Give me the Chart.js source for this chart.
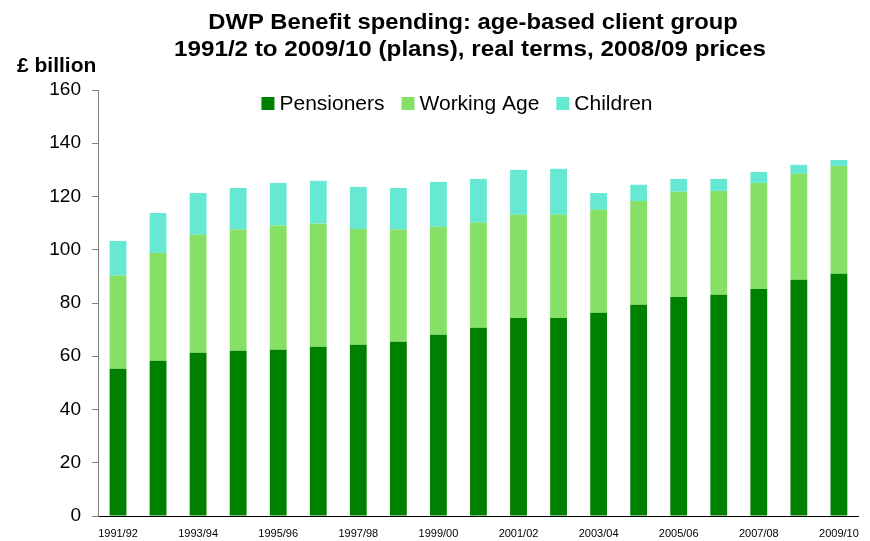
<!DOCTYPE html>
<html>
<head>
<meta charset="utf-8">
<script src="https://cdn.jsdelivr.net/npm/chart.js@4/dist/chart.umd.min.js"></script>
<style>
  html, body { margin: 0; padding: 0; background: #fff; }
  #wrap { width: 870px; height: 541px; position: relative; }
</style>
</head>
<body>
<div id="wrap"><canvas id="c" width="870" height="541"></canvas></div>
<script>
const categories = ["1991/92","1992/93","1993/94","1994/95","1995/96","1996/97","1997/98","1998/99","1999/00","2000/01","2001/02","2002/03","2003/04","2004/05","2005/06","2006/07","2007/08","2008/09","2009/10"];
const pensioners = [55.3, 58.3, 61.3, 62.1, 62.4, 63.6, 64.3, 65.4, 68.1, 70.7, 74.4, 74.4, 76.3, 79.3, 82.3, 83.1, 85.3, 88.7, 91.0];
const workingAge = [35.0, 40.5, 44.3, 45.5, 46.7, 46.2, 43.5, 42.2, 40.5, 39.4, 38.7, 38.7, 38.7, 39.0, 39.5, 39.0, 39.8, 39.8, 40.5];
const children   = [13.0, 15.0, 15.7, 15.6, 16.0, 16.1, 15.8, 15.6, 16.9, 16.5, 16.9, 17.3, 6.3, 6.1, 4.8, 4.5, 4.1, 3.4, 2.2];
const seriesNames = ["Pensioners", "Working Age", "Children"];
const yTicks = [0, 20, 40, 60, 80, 100, 120, 140, 160];
const titleLines = ["DWP Benefit spending: age-based client group", "1991/2 to 2009/10 (plans), real terms, 2008/09 prices"];
const yUnit = "£ billion";

const FONT = '"Liberation Sans", Arial, Helvetica, sans-serif';
const colors = ["#008000", "#86E066", "#66E8D2"];

function stretchedText(ctx, text, x, y, sx, align) {
  ctx.save();
  ctx.translate(x, y);
  ctx.scale(sx, 1);
  ctx.textAlign = align;
  ctx.fillText(text, 0, 0);
  ctx.restore();
}

const decor = {
  id: 'decor',
  afterDraw(chart) {
    const ctx = chart.ctx;
    ctx.save();
    ctx.fillStyle = '#000';
    ctx.textBaseline = 'alphabetic';
    // title
    ctx.font = 'bold 22px ' + FONT;
    stretchedText(ctx, titleLines[0], 473, 29, 1.08, 'center');
    stretchedText(ctx, titleLines[1], 470, 56, 1.1, 'center');
    // unit label
    ctx.font = 'bold 21px ' + FONT;
    ctx.textAlign = 'left';
    ctx.fillText(yUnit, 17, 72);
    // legend
    ctx.font = '21px ' + FONT;
    const box = 13, gapBT = 5, gapItems = 17;
    const ds = chart.data.datasets;
    let total = 0;
    const widths = ds.map(d => ctx.measureText(d.label).width);
    widths.forEach((w, i) => { total += box + gapBT + w + (i < ds.length - 1 ? gapItems : 0); });
    let x = 457 - total / 2;
    const cy = 103.5;
    ds.forEach((d, i) => {
      ctx.fillStyle = d.backgroundColor;
      ctx.fillRect(x, cy - box / 2, box, box);
      ctx.fillStyle = '#000';
      ctx.textBaseline = 'middle';
      ctx.textAlign = 'left';
      ctx.fillText(d.label, x + box + gapBT, cy + 1);
      x += box + gapBT + widths[i] + gapItems;
    });
    ctx.restore();
  }
};

new Chart(document.getElementById('c'), {
  type: 'bar',
  data: {
    labels: categories,
    datasets: [
      { label: seriesNames[0], data: pensioners, backgroundColor: colors[0] },
      { label: seriesNames[1], data: workingAge, backgroundColor: colors[1] },
      { label: seriesNames[2], data: children, backgroundColor: colors[2] }
    ]
  },
  options: {
    responsive: false,
    animation: false,
    devicePixelRatio: 1,
    layout: { padding: { top: 90, right: 8, left: 0, bottom: 0 } },
    datasets: { bar: { barPercentage: 0.42, categoryPercentage: 1.0 } },
    plugins: {
      legend: { display: false },
      title: { display: false },
      tooltip: { enabled: false }
    },
    scales: {
      x: {
        stacked: true,
        offset: true,
        grid: { display: false, drawTicks: false },
        border: { display: true, color: '#000', width: 1 },
        ticks: {
          autoSkip: false,
          maxRotation: 0,
          padding: 11,
          color: '#000',
          font: { family: FONT, size: 11 },
          callback: function(v, i) { return i % 2 === 0 ? categories[i] : ''; }
        },
        afterFit(s) { s.height = 25; }
      },
      y: {
        stacked: true,
        min: 0,
        max: 160,
        afterBuildTicks(s) { s.ticks = yTicks.map(v => ({ value: v })); },
        grid: { drawOnChartArea: false, drawTicks: true, tickLength: 6, color: '#808080', lineWidth: 1 },
        border: { display: true, color: '#808080', width: 1 },
        ticks: {
          padding: 11,
          color: '#000',
          font: { family: FONT, size: 19 }
        },
        afterFit(s) { s.width = 98; }
      }
    }
  },
  plugins: [decor]
});
</script>
</body>
</html>
